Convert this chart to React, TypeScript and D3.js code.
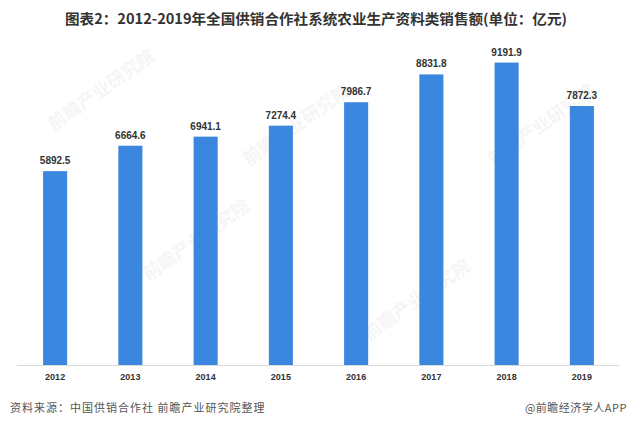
import React from "react";
import * as d3 from "d3";

const years = ["2012", "2013", "2014", "2015", "2016", "2017", "2018", "2019"];
const sales = [5892.5, 6664.6, 6941.1, 7274.4, 7986.7, 8831.8, 9191.9, 7872.3];
const titleText = "图表2：2012-2019年全国供销合作社系统农业生产资料类销售额(单位：亿元)";
const sourceText = "资料来源：中国供销合作社 前瞻产业研究院整理";
const brandText = "@前瞻经济学人APP";
const watermarks = [
  { x: 105, y: 95 },
  { x: 300, y: 130 },
  { x: 545, y: 130 },
  { x: 420, y: 305 },
  { x: 200, y: 245 },
];

const W = 640;
const H = 430;
const FONT = "'Noto Sans CJK SC', 'Noto Sans', sans-serif";

export default function App() {
  const x = d3.scaleBand<string>().domain(years).range([17.5, 619.5]).paddingInner(0.68).paddingOuter(0.34);
  const y = d3.scaleLinear().domain([0, 10000]).range([365, 36]);
  const fmt = d3.format(".1f");
  return (
    <svg width={W} height={H} style={{ position: "absolute", left: 0, top: 0, background: "#fff" }}>
      <rect x={0} y={0} width={W} height={H} fill="#fff" />
      {watermarks.map((w, i) => (
        <text
          key={i}
          x={w.x}
          y={w.y}
          transform={`rotate(-35 ${w.x} ${w.y})`}
          textAnchor="middle"
          fontFamily={FONT}
          fontWeight="bold"
          fontSize={18}
          fill="#000"
          opacity={0.035}
        >
          前瞻产业研究院
        </text>
      ))}
      <text x={316} y={24} textAnchor="middle" fontFamily={FONT} fontWeight="bold" fontSize={14} fill="#333"
        textLength={502} lengthAdjust="spacingAndGlyphs">
        {titleText}
      </text>
      <line x1={17} x2={619} y1={y(0) + 0.5} y2={y(0) + 0.5} stroke="#d9d9d9" strokeWidth={1} />
      {years.map((yr, i) => (
        <g key={yr}>
          <rect x={x(yr)} y={y(sales[i])} width={x.bandwidth()} height={y(0) - y(sales[i])} fill="#3b87e0" />
          <text x={(x(yr) as number) + x.bandwidth() / 2} y={y(sales[i]) - 7} textAnchor="middle"
            fontFamily="'Liberation Sans', Arial, sans-serif" fontWeight="bold" fontSize={10} fill="#333">
            {fmt(sales[i])}
          </text>
          <text x={(x(yr) as number) + x.bandwidth() / 2} y={380} textAnchor="middle"
            fontFamily="'Liberation Sans', Arial, sans-serif" fontWeight="bold" fontSize={9} fill="#333">
            {yr}
          </text>
        </g>
      ))}
      <text x={10} y={412} fontFamily={FONT} fontSize={11} letterSpacing={1} fill="#555">
        {sourceText}
      </text>
      <text x={627} y={412} textAnchor="end" fontFamily={FONT} fontSize={11} letterSpacing={0.5} fill="#555">
        {brandText}
      </text>
    </svg>
  );
}
